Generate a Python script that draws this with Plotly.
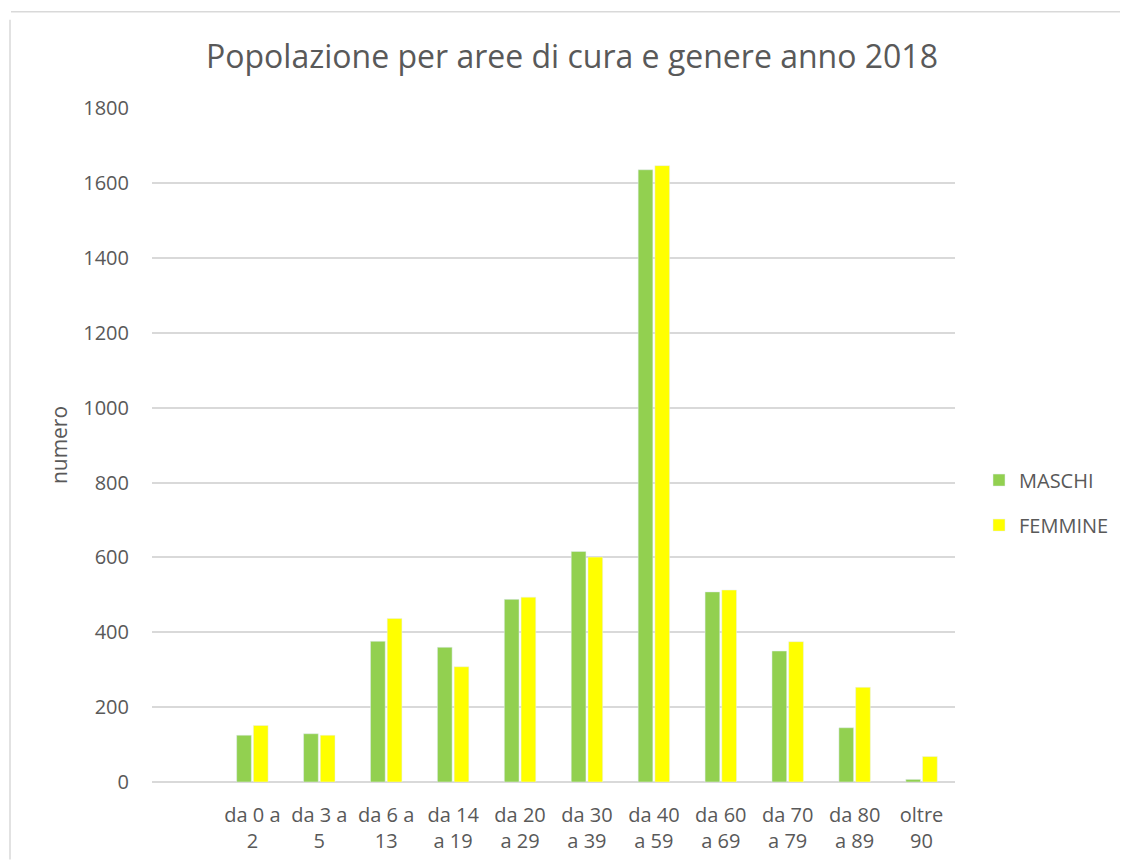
import plotly.graph_objects as go

categories = ["", "da 0 a<br>2", "da 3 a<br>5", "da 6 a<br>13", "da 14<br>a 19", "da 20<br>a 29",
              "da 30<br>a 39", "da 40<br>a 59", "da 60<br>a 69", "da 70<br>a 79", "da 80<br>a 89",
              "oltre<br>90"]
maschi = [None, 125, 129, 376, 360, 488, 616, 1636, 508, 350, 145, 7]
femmine = [None, 151, 125, 437, 308, 494, 601, 1647, 513, 375, 253, 68]
y_ticks = [0, 200, 400, 600, 800, 1000, 1200, 1400, 1600, 1800]

positions = list(range(len(categories)))
FONT = "Open Sans"
GREY = "#595959"

fig = go.Figure()
fig.add_trace(go.Bar(x=positions, y=maschi, name="MASCHI", marker_color="#92D050",
                     legendgroup="m"))
fig.add_trace(go.Bar(x=positions, y=femmine, name="FEMMINE", marker_color="#FFFF00",
                     legendgroup="f"))

# page body has an 8px margin; figure coordinates are screen - 8
OFF = 8
W, H = 1128 - OFF, 860 - OFF
L, R, T, B = 152 - OFF, 955 - OFF, 108.3 - OFF, 782.5 - OFF
pw, ph = R - L, B - T

def px(x):
    return (x - OFF - L) / pw

def py(y):
    return (B - (y - OFF)) / ph

fig.update_layout(
    width=W, height=H,
    margin=dict(l=L, r=W - R, t=T, b=H - B, pad=0),
    paper_bgcolor="white", plot_bgcolor="white",
    font=dict(family=FONT, color=GREY, size=20),
    barmode="group", bargap=0.5, bargroupgap=0.12,
    title=dict(text="Popolazione per aree di cura e genere anno 2018",
               x=(572 - OFF) / W, xanchor="center", y=1 - (57 - OFF) / H, yanchor="middle",
               font=dict(family=FONT, size=32, color=GREY)),
    xaxis=dict(range=[-0.5, len(categories) - 0.5], tickmode="array",
               tickvals=positions, ticktext=categories, showgrid=False,
               showline=False, zeroline=False, ticks="", automargin=False,
               tickfont=dict(size=20, color=GREY), ticklabelstandoff=19),
    yaxis=dict(range=[0, 1801], tickmode="array", tickvals=y_ticks,
               showgrid=True, gridcolor="#d9d9d9", gridwidth=1.5,
               zeroline=True, zerolinecolor="#d9d9d9", zerolinewidth=1.5,
               showline=False, ticks="", automargin=False,
               tickfont=dict(size=20, color=GREY), ticklabelstandoff=22,
               title=dict(text="numero", font=dict(size=21, color=GREY), standoff=9)),
    legend=dict(x=px(979), xanchor="left", y=py(503), yanchor="middle",
                font=dict(size=20, color=GREY), tracegroupgap=16,
                itemwidth=30, bgcolor="rgba(0,0,0,0)"),
    showlegend=True,
    shapes=[
        dict(type="line", xref="paper", yref="paper", x0=px(11), x1=px(1128),
             y0=py(12), y1=py(12), line=dict(color="#d9d9d9", width=1.5)),
        dict(type="line", xref="paper", yref="paper", x0=px(10), x1=px(10),
             y0=py(20), y1=py(860), line=dict(color="#d9d9d9", width=1.5)),
    ],
)

fig.write_html("out.html")
